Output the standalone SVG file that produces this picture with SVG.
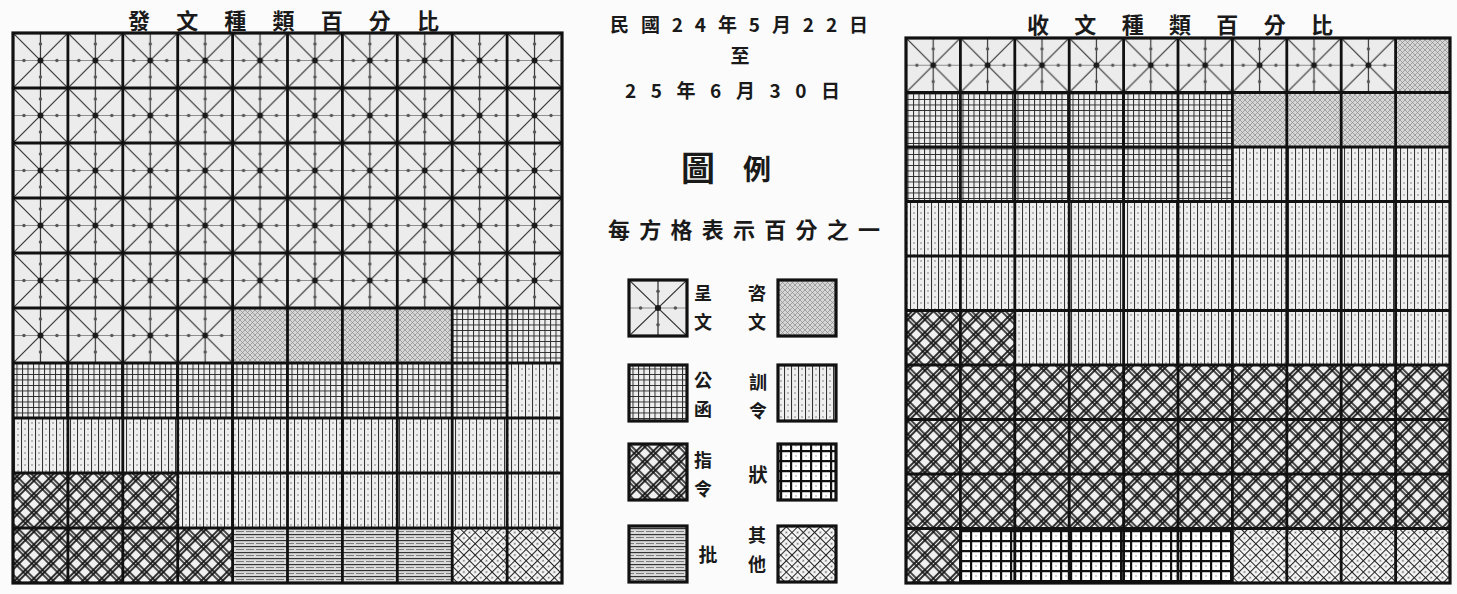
<svg xmlns="http://www.w3.org/2000/svg" width="1457" height="594" viewBox="0 0 1457 594">
<style>
.t{font-family:"Noto Sans CJK TC","Noto Sans CJK SC","Noto Sans CJK JP",sans-serif;font-weight:bold;fill:#1a1a1a}
.grid{fill:none;stroke:#111;stroke-width:2.8}
.frame{fill:none;stroke:#111;stroke-width:3.2}
.box{stroke:#111;stroke-width:3.2}
</style>
<defs>
<pattern id="chL" patternUnits="userSpaceOnUse" x="13" y="33" width="54.9" height="55" viewBox="0 0 55 55" preserveAspectRatio="none">
<rect width="55" height="55" fill="#ececec"/>
<path d="M0 0L55 55M55 0L0 55M27.5 0V55" stroke="#333" stroke-width="1.2" fill="none"/>
<path d="M0 27.5H55" stroke="#777" stroke-width="0.8" fill="none"/>
<circle cx="27.5" cy="27.5" r="3" fill="#1a1a1a"/>
<g fill="#555"><circle cx="27.5" cy="11" r="1.7"/><circle cx="27.5" cy="44" r="1.7"/><circle cx="11" cy="27.5" r="1.7"/><circle cx="44" cy="27.5" r="1.7"/></g>
</pattern>
<pattern id="chR" href="#chL" x="906" y="38" width="54.4" height="54.5"/>
<pattern id="chG" href="#chL" x="629" y="280" width="58" height="56"/>
<pattern id="zi" patternUnits="userSpaceOnUse" width="5" height="5"><rect width="5" height="5" fill="#d6d6d6"/><path d="M0 0L5 5M5 0L0 5" stroke="#8a8a8a" stroke-width="0.7"/></pattern>
<pattern id="gh" patternUnits="userSpaceOnUse" width="5.5" height="5.5"><rect width="5.5" height="5.5" fill="#eeeeee"/><path d="M0.5 0V5.5M0 0.5H5.5" stroke="#2a2a2a" stroke-width="1"/></pattern>
<pattern id="xl" patternUnits="userSpaceOnUse" width="7" height="6"><rect width="7" height="6" fill="#efefef"/><path d="M0.5 0V6" stroke="#333" stroke-width="1.1"/><circle cx="4" cy="3" r="0.8" fill="#777"/></pattern>
<pattern id="zl" patternUnits="userSpaceOnUse" width="12" height="12" patternTransform="rotate(45)"><rect width="12" height="12" fill="#f0f0f0"/><path d="M1 0V12M4 0V12M0 1H12M0 4H12" stroke="#111" stroke-width="1.7"/></pattern>
<pattern id="zh" patternUnits="userSpaceOnUse" width="10" height="10"><rect width="10" height="10" fill="#fff"/><path d="M1 0V10M0 1H10" stroke="#111" stroke-width="2.4"/><circle cx="6" cy="6" r="0.8" fill="#999"/></pattern>
<pattern id="pi" patternUnits="userSpaceOnUse" width="10" height="6"><rect width="10" height="6" fill="#dadada"/><path d="M0 0.6H10" stroke="#2a2a2a" stroke-width="1.1"/><path d="M0 3.5H4M6 3.5H10" stroke="#666" stroke-width="0.8"/></pattern>
<pattern id="qt" patternUnits="userSpaceOnUse" width="8" height="8" patternTransform="rotate(45)"><rect width="8" height="8" fill="#f4f4f4"/><path d="M0.5 0V8M0 0.5H8" stroke="#222" stroke-width="1.1"/><circle cx="4.5" cy="4.5" r="0.9" fill="#666"/></pattern>
</defs>
<rect width="1457" height="594" fill="#fbfbfb"/>

<g id="title-left"><text class="t" x="128" y="29" font-size="22" textLength="311" lengthAdjust="spacing">發文種類百分比</text></g>
<g id="title-right"><text class="t" x="1027" y="33" font-size="22" textLength="306" lengthAdjust="spacing">收文種類百分比</text></g>

<g id="grid-left">
<rect x="13" y="33" width="549" height="275" fill="url(#chL)"/>
<rect x="13" y="308" width="219.6" height="55" fill="url(#chL)"/>
<rect x="232.6" y="308" width="219.6" height="55" fill="url(#zi)"/>
<rect x="452.2" y="308" width="109.8" height="55" fill="url(#gh)"/>
<rect x="13" y="363" width="494.1" height="55" fill="url(#gh)"/>
<rect x="507.1" y="363" width="54.9" height="55" fill="url(#xl)"/>
<rect x="13" y="418" width="549" height="55" fill="url(#xl)"/>
<rect x="13" y="473" width="164.7" height="55" fill="url(#zl)"/>
<rect x="177.7" y="473" width="384.3" height="55" fill="url(#xl)"/>
<rect x="13" y="528" width="219.6" height="55" fill="url(#zl)"/>
<rect x="232.6" y="528" width="219.6" height="55" fill="url(#pi)"/>
<rect x="452.2" y="528" width="109.8" height="55" fill="url(#qt)"/>
<path class="grid" d="M67.9 33V583M122.8 33V583M177.7 33V583M232.6 33V583M287.5 33V583M342.4 33V583M397.3 33V583M452.2 33V583M507.1 33V583M13 88H562M13 143H562M13 198H562M13 253H562M13 308H562M13 363H562M13 418H562M13 473H562M13 528H562"/>
<rect class="frame" x="13" y="33" width="549" height="550"/>
</g>

<g id="grid-right">
<rect x="906" y="38" width="489.6" height="54.5" fill="url(#chR)"/>
<rect x="1395.6" y="38" width="54.4" height="54.5" fill="url(#zi)"/>
<rect x="906" y="92.5" width="326.4" height="109" fill="url(#gh)"/>
<rect x="1232.4" y="92.5" width="217.6" height="54.5" fill="url(#zi)"/>
<rect x="1232.4" y="147" width="217.6" height="54.5" fill="url(#xl)"/>
<rect x="906" y="201.5" width="544" height="109" fill="url(#xl)"/>
<rect x="906" y="310.5" width="108.8" height="54.5" fill="url(#zl)"/>
<rect x="1014.8" y="310.5" width="435.2" height="54.5" fill="url(#xl)"/>
<rect x="906" y="365" width="544" height="163.5" fill="url(#zl)"/>
<rect x="906" y="528.5" width="54.4" height="54.5" fill="url(#zl)"/>
<rect x="960.4" y="528.5" width="272" height="54.5" fill="url(#zh)"/>
<rect x="1232.4" y="528.5" width="217.6" height="54.5" fill="url(#qt)"/>
<path class="grid" d="M960.4 38V583M1014.8 38V583M1069.2 38V583M1123.6 38V583M1178 38V583M1232.4 38V583M1286.8 38V583M1341.2 38V583M1395.6 38V583M906 92.5H1450M906 147H1450M906 201.5H1450M906 256H1450M906 310.5H1450M906 365H1450M906 419.5H1450M906 474H1450M906 528.5H1450"/>
<rect class="frame" x="906" y="38" width="544" height="545"/>
</g>

<g id="period">
<text class="t" x="610" y="32" font-size="19" textLength="258" lengthAdjust="spacing">民國24年5月22日</text>
<text class="t" x="740" y="63" font-size="19" text-anchor="middle">至</text>
<text class="t" x="625" y="98" font-size="19" textLength="215" lengthAdjust="spacing">25年6月30日</text>
</g>

<g id="legend-title">
<text class="t" x="698" y="181" font-size="34" text-anchor="middle">圖</text>
<text class="t" x="757" y="180" font-size="28" text-anchor="middle">例</text>
</g>
<g id="note"><text class="t" x="608" y="238" font-size="22" textLength="272" lengthAdjust="spacing">每方格表示百分之一</text></g>

<g id="legend-chengwen"><rect class="box" x="629" y="280" width="58" height="56" fill="url(#chG)"/><text class="t" x="703" y="300" font-size="18" text-anchor="middle">呈</text><text class="t" x="703" y="329" font-size="18" text-anchor="middle">文</text></g>
<g id="legend-ziwen"><rect class="box" x="778" y="280" width="58" height="56" fill="url(#zi)"/><text class="t" x="757" y="300" font-size="18" text-anchor="middle">咨</text><text class="t" x="757" y="329" font-size="18" text-anchor="middle">文</text></g>
<g id="legend-gonghan"><rect class="box" x="629" y="365" width="58" height="56" fill="url(#gh)"/><text class="t" x="703" y="387" font-size="18" text-anchor="middle">公</text><text class="t" x="703" y="416" font-size="18" text-anchor="middle">函</text></g>
<g id="legend-xunling"><rect class="box" x="778" y="365" width="58" height="56" fill="url(#xl)"/><text class="t" x="758" y="389" font-size="18" text-anchor="middle">訓</text><text class="t" x="758" y="418" font-size="18" text-anchor="middle">令</text></g>
<g id="legend-zhiling"><rect class="box" x="629" y="444" width="58" height="56" fill="url(#zl)"/><text class="t" x="703" y="467" font-size="18" text-anchor="middle">指</text><text class="t" x="703" y="496" font-size="18" text-anchor="middle">令</text></g>
<g id="legend-zhuang"><rect class="box" x="778" y="444" width="58" height="56" fill="url(#zh)"/><text class="t" x="758" y="482" font-size="19" text-anchor="middle">狀</text></g>
<g id="legend-pi"><rect class="box" x="629" y="526" width="58" height="56" fill="url(#pi)"/><text class="t" x="708" y="562" font-size="19" text-anchor="middle">批</text></g>
<g id="legend-qita"><rect class="box" x="778" y="526" width="58" height="56" fill="url(#qt)"/><text class="t" x="757" y="542" font-size="18" text-anchor="middle">其</text><text class="t" x="757" y="571" font-size="18" text-anchor="middle">他</text></g>
</svg>
